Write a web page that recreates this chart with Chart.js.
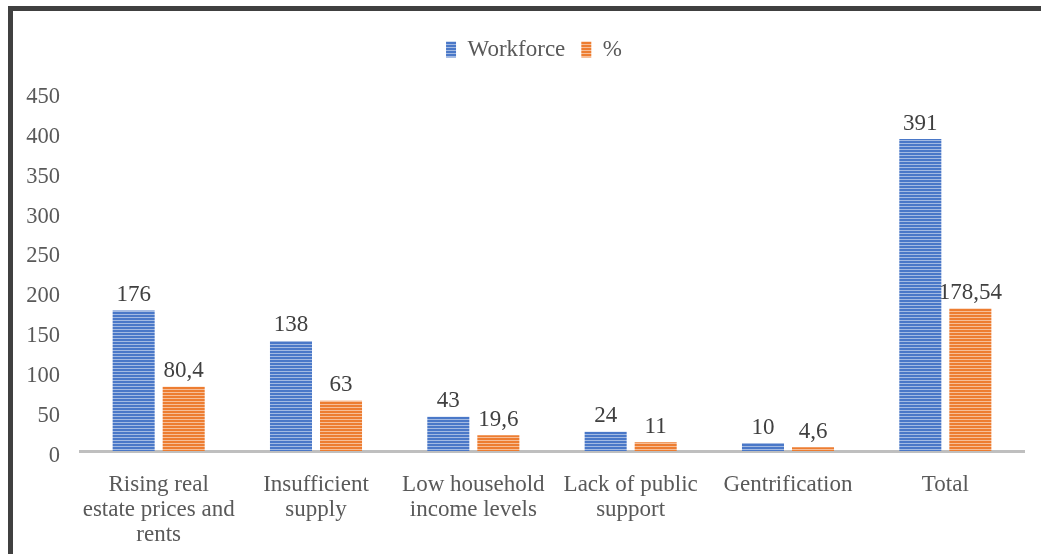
<!DOCTYPE html>
<html>
<head>
<meta charset="utf-8">
<script src="https://cdn.jsdelivr.net/npm/chart.js@4.4.1/dist/chart.umd.min.js"></script>
<style>
  html, body { margin: 0; padding: 0; background: #fff; overflow: hidden; }
  #wrap { position: relative; width: 1041px; height: 554px; }
  #frame {
    position: absolute; left: 8px; top: 6px; width: 1100px; height: 543px;
    border-top: 5px solid #404040; border-left: 5px solid #404040; border-bottom: 3px solid #404040;
    pointer-events: none;
  }
  canvas { position: absolute; left: 0; top: 0; }
</style>
</head>
<body>
<div id="wrap">
  <canvas id="chart" width="1041" height="554"></canvas>
  <div id="frame"></div>
</div>
<script>
// chart data
var categories = [
    ["Rising real", "estate prices and", "rents"],
    ["Insufficient", "supply"],
    ["Low household", "income levels"],
    ["Lack of public", "support"],
    "Gentrification",
    "Total"
];
var workforce = [176, 138, 43, 24, 10, 391];
var percent = [80.4, 63, 19.6, 11, 4.6, 178.54];
var yTicks = [0, 50, 100, 150, 200, 250, 300, 350, 400, 450];

var FONT = "'Liberation Serif', 'Times New Roman', serif";

// horizontal striped fill like the excel picture
function stripes(base, light) {
    var c = document.createElement('canvas');
    c.width = 4; c.height = 3;
    var g = c.getContext('2d');
    g.fillStyle = base;
    g.fillRect(0, 0, 4, 3);
    g.fillStyle = light;
    g.fillRect(0, 2, 4, 1);
    return g.createPattern(c, 'repeat');
}

var blueFill = stripes('#4A78C8', '#A3BAE2');
var orangeFill = stripes('#ED7D31', '#F6BE98');

// value labels on top of bars, decimal comma
var valueLabels = {
    id: 'valueLabels',
    afterDatasetsDraw: function (chart) {
        var ctx = chart.ctx;
        ctx.save();
        ctx.font = '23px ' + FONT;
        ctx.fillStyle = '#404040';
        ctx.textAlign = 'center';
        ctx.textBaseline = 'bottom';
        chart.data.datasets.forEach(function (ds, i) {
            chart.getDatasetMeta(i).data.forEach(function (bar, j) {
                var txt = String(ds.data[j]).replace('.', ',');
                ctx.fillText(txt, bar.x, bar.y - 4);
            });
        });
        ctx.restore();
    }
};

// extra room under the legend, and legend nudged right
var legendGap = {
    id: 'legendGap',
    beforeLayout: function (chart) {
        var lg = chart.legend;
        if (lg && !lg._gapDone) {
            var fit = lg.fit;
            lg.fit = function () {
                fit.call(this);
                this.height += 21;
            };
            lg._gapDone = true;
        }
    },
    afterLayout: function (chart) {
        var lg = chart.legend;
        if (lg) {
            lg.left += 22;
            lg.right += 22;
        }
    }
};

new Chart(document.getElementById("chart"), {
    type: 'bar',
    data: {
        labels: categories,
        datasets: [{
            label: 'Workforce',
            data: workforce,
            backgroundColor: blueFill,
            borderWidth: 0,
            categoryPercentage: 0.636,
            barPercentage: 0.84
        }, {
            label: '%',
            data: percent,
            backgroundColor: orangeFill,
            borderWidth: 0,
            categoryPercentage: 0.636,
            barPercentage: 0.84
        }]
    },
    options: {
        responsive: false,
        animation: false,
        layout: { padding: { top: 22, right: 17, left: 0, bottom: 0 } },
        plugins: {
            legend: {
                position: 'top',
                labels: {
                    boxWidth: 10,
                    boxHeight: 16,
                    color: '#595959',
                    font: { family: FONT, size: 23 },
                    padding: 16
                }
            },
            tooltip: { enabled: false }
        },
        scales: {
            x: {
                grid: { display: false },
                border: { display: true, color: '#BFBFBF', width: 3 },
                ticks: {
                    color: '#595959',
                    font: { family: FONT, size: 23, lineHeight: 1.09 },
                    padding: 13,
                    maxRotation: 0,
                    autoSkip: false
                },
                afterFit: function (scale) { scale.height = 103; }
            },
            y: {
                min: 0,
                max: 450,
                afterBuildTicks: function (scale) {
                    scale.ticks = yTicks.map(function (v) { return { value: v }; });
                },
                grid: { display: false },
                border: { display: false },
                ticks: {
                    color: '#595959',
                    font: { family: FONT, size: 22.5 },
                    padding: 12,
                    labelOffset: 5
                },
                afterFit: function (scale) { scale.width = 80; }
            }
        }
    },
    plugins: [valueLabels, legendGap]
});
</script>
</body>
</html>
